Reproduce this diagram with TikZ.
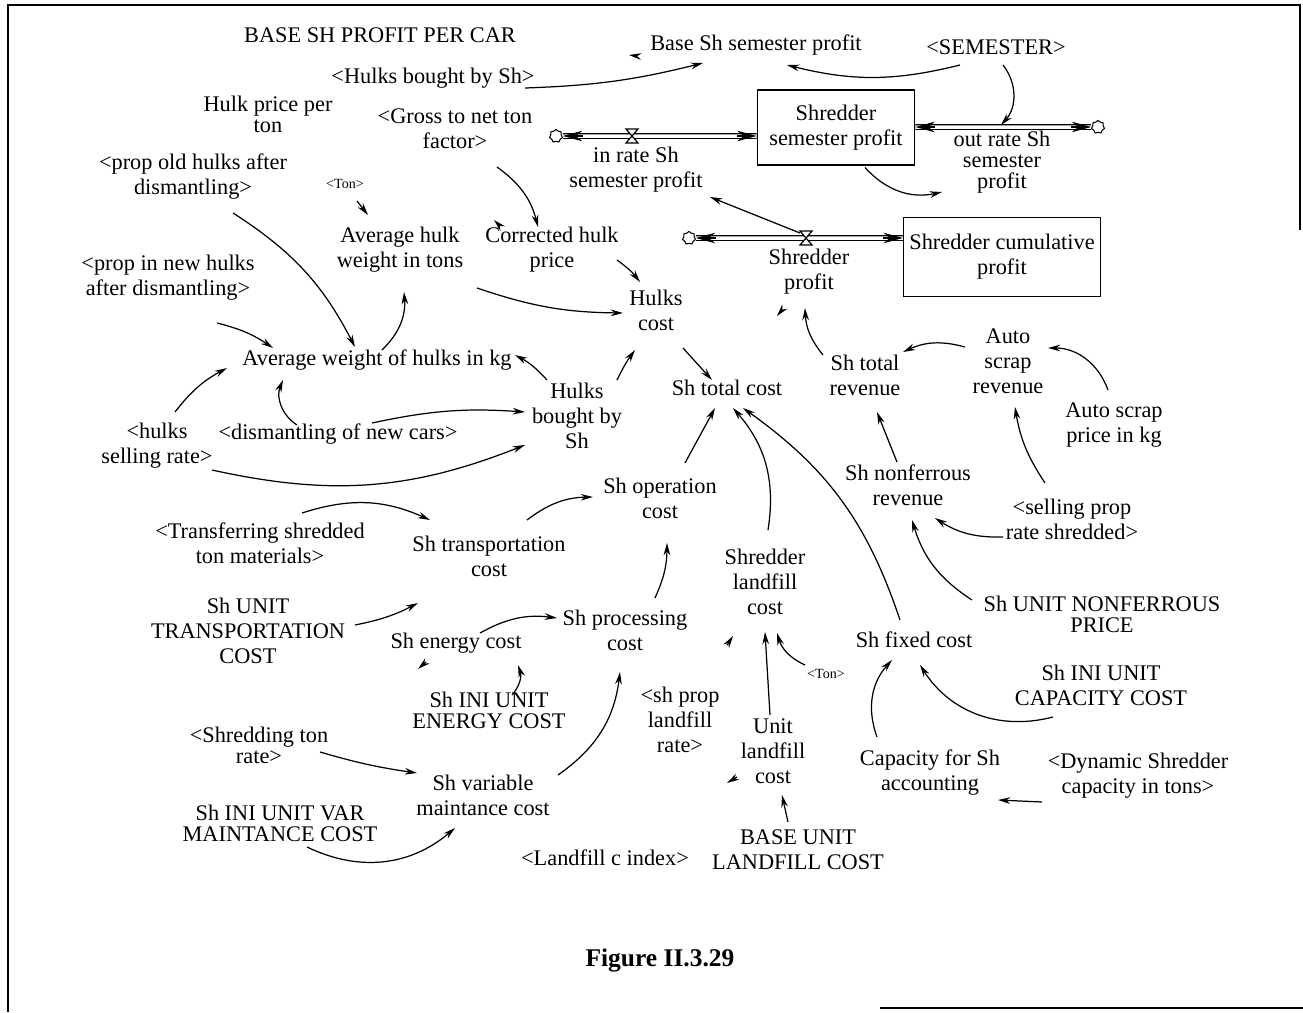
\documentclass[tikz,border=0pt]{standalone}
\usepackage{fontspec}
\setmainfont{Liberation Serif}
\usepackage{tikz}
\usetikzlibrary{arrows.meta, shapes.symbols, calc}

\tikzset{
  var/.style={align=center, inner sep=1pt, font=\fontsize{12.7}{14.2}\selectfont},
  tvar/.style={var, font=\fontsize{12.7}{11.8}\selectfont},
  small/.style={inner sep=1pt, font=\fontsize{8}{9}\selectfont},
  stock/.style={draw, line width=0.8pt, align=center, font=\fontsize{12.7}{14.2}\selectfont},
  link/.style={-{Stealth[length=7pt,width=3.8pt]}, line width=0.7pt},
  pipe/.style={double distance=2pt, line width=0.6pt},
  pipetip/.style={-{Stealth[length=11pt,width=6pt]}, line width=0.6pt},
  cloudy/.style={cloud, cloud puffs=7, draw, line width=0.6pt, minimum width=7.5pt, minimum height=7.5pt, inner sep=0pt},
  frame/.style={line width=0.8pt}
}
\newcommand{\valve}[1]{\draw[line width=0.7pt, fill=white] ($(#1)+(-6,-7)$) -- ($(#1)+(6,-7)$) -- ($(#1)+(-6,7)$) -- ($(#1)+(6,7)$) -- cycle;}

\begin{document}
\begin{tikzpicture}[x=0.02cm, y=-0.02cm]
\useasboundingbox (0,0) rectangle (1303,1012);
\draw[frame] (8,1012) -- (8,5) -- (1300,5) -- (1300,230);
\draw[frame] (880,1008) -- (1303,1008);

% variables
\node[var] (basepc) at (380,35) {BASE SH PROFIT PER CAR};
\node[var] (bssp) at (756,45) {Base Sh semester profit};
\node[var] (sem) at (996,47) {<SEMESTER>};
\node[var] (hbshs) at (433,78) {<Hulks bought by Sh>};
\node[tvar] (hpt) at (268,114) {Hulk price per\\ton};
\node[var] (gnt) at (455,129) {<Gross to net ton\\factor>};
\node[stock, minimum width=89.6pt, minimum height=42.5pt] (ssp) at (836,127.5) {Shredder\\semester profit};
\node[var] (inr) at (636,170) {in rate Sh\\semester profit};
\node[tvar] (outr) at (1002,162) {out rate Sh\\semester\\profit};
\node[var] (poh) at (193,177) {<prop old hulks after\\dismantling>};
\node[small] (ton1) at (345,184) {<Ton>};
\node[var] (ahw) at (400,250) {Average hulk\\weight in tons};
\node[var] (chp) at (552,250) {Corrected hulk\\price};
\node[stock, minimum width=112pt, minimum height=45pt] (scp) at (1002,257) {Shredder cumulative\\profit};
\node[var] (shp) at (809,272) {Shredder\\profit};
\node[var] (pnh) at (168,278) {<prop in new hulks\\after dismantling>};
\node[var] (hcost) at (656,310) {Hulks\\cost};
\node[var] (awh) at (377,360) {Average weight of hulks in kg};
\node[var] (hbsh) at (577,416) {Hulks\\bought by\\Sh};
\node[var] (stc) at (727,388) {Sh total cost};
\node[var] (str) at (865,375) {Sh total\\revenue};
\node[var] (asr) at (1008,361) {Auto\\scrap\\revenue};
\node[var] (asp) at (1114,425) {Auto scrap\\price in kg};
\node[var] (hsr) at (157,446) {<hulks\\selling rate>};
\node[var] (dnc) at (338,434) {<dismantling of new cars>};
\node[var] (snr) at (908,485) {Sh nonferrous\\revenue};
\node[var] (spr) at (1072,519) {<selling prop\\rate shredded>};
\node[var] (soc) at (660,498) {Sh operation\\cost};
\node[var] (tsm) at (260,543) {<Transferring shredded\\ton materials>};
\node[var] (strc) at (489,556) {Sh transportation\\cost};
\node[var] (slc) at (765,582) {Shredder\\landfill\\cost};
\node[tvar] (unp) at (1102,614) {Sh UNIT NONFERROUS\\PRICE};
\node[var] (utc) at (248,631) {Sh UNIT\\TRANSPORTATION\\COST};
\node[var] (spc) at (625,630) {Sh processing\\cost};
\node[var] (sec) at (456,643) {Sh energy cost};
\node[var] (sfc) at (914,640) {Sh fixed cost};
\node[small] (ton2) at (826,674) {<Ton>};
\node[var] (icc) at (1101,685) {Sh INI UNIT\\CAPACITY COST};
\node[tvar] (iec) at (489,710) {Sh INI UNIT\\ENERGY COST};
\node[var] (plr) at (680,720) {<sh prop\\landfill\\rate>};
\node[var] (ulc) at (773,751) {Unit\\landfill\\cost};
\node[tvar] (shtr) at (259,745) {<Shredding ton\\rate>};
\node[var] (cap) at (930,773) {Capacity for Sh\\accounting};
\node[var] (dsc) at (1138,776) {<Dynamic Shredder\\capacity in tons>};
\node[var] (svm) at (483,795) {Sh variable\\maintance cost};
\node[tvar] (ivm) at (280,823) {Sh INI UNIT VAR\\MAINTANCE COST};
\node[var] (lci) at (605,858) {<Landfill c index>};
\node[var] (bulc) at (798,850) {BASE UNIT\\LANDFILL COST};
\node[font=\fontsize{14.5}{16}\selectfont\bfseries] (fig) at (660,960) {Figure II.3.29};

% flows
\node[cloudy] (c1) at (556,136) {};
\node[cloudy] (c2) at (1098,127) {};
\node[cloudy] (c3) at (689,238) {};
\coordinate (v1) at (632,136);
\coordinate (v2) at (1001,127);
\coordinate (v3) at (806,238);

\draw[pipe] (c1.east) -- (c1 -| ssp.west);
\draw[pipetip] ($(c1.east)+(20,0)$) -- (c1.east);
\draw[pipetip] ($(c1 -| ssp.west)+(-20,0)$) -- (c1 -| ssp.west);
\valve{v1}

\draw[pipe] (ssp.east |- c2) -- (c2.west);
\draw[pipetip] ($(ssp.east |- c2)+(20,0)$) -- (ssp.east |- c2);
\draw[pipetip] ($(c2.west)+(-20,0)$) -- (c2.west);

\draw[pipe] (c3.east) -- (c3 -| scp.west);
\draw[pipetip] ($(c3.east)+(20,0)$) -- (c3.east);
\draw[pipetip] ($(c3 -| scp.west)+(-20,0)$) -- (c3 -| scp.west);
\valve{v3}

% links
\draw[link] ($(hbshs)+(92,10)$) to[bend right=6] ($(bssp)+(-53,18)$);
\draw[link] ($(sem)+(-36,18)$) to[bend left=14] ($(bssp)+(31,20)$);
\draw[link] ($(sem)+(7,18)$) to[bend left=40] ($(v2)+(0,-2)$);
\draw[link] ($(ssp)+(29,40)$) to[bend right=30] ($(outr)+(-60,30)$);
\draw[link] ($(v3)+(-6,-5)$) -- ($(inr)+(74,27)$);
\draw[link] ($(gnt)+(42,38)$) to[bend left=20] ($(chp)+(-14,-23)$);
\draw[link] ($(ton1)+(12,17)$) -- ($(ahw)+(-32,-35)$);
\draw[link] ($(chp)+(-52,-24)$) -- ($(chp)+(-58,-30)$);
\draw[link] ($(chp)+(65,10)$) to[bend left=8] ($(hcost)+(-16,-28)$);
\draw[link] ($(ahw)+(77,38)$) to[bend right=9] ($(hcost)+(-33,3)$);
\draw[link] ($(poh)+(40,36)$) to[bend left=15] ($(awh)+(-22,-13)$);
\draw[link] ($(awh)+(5,-10)$) to[bend right=25] ($(ahw)+(4,42)$);
\draw[link] ($(pnh)+(49,45)$) to[bend left=10] ($(awh)+(-104,-12)$);
\draw[link] ($(hsr)+(18,-34)$) to[bend left=12] ($(awh)+(-150,8)$);
\draw[link] ($(dnc)+(-41,-9)$) to[bend left=40] ($(awh)+(-94,20)$);
\draw[link] ($(dnc)+(34,-11)$) to[bend left=8] ($(hbsh)+(-52,-4)$);
\draw[link] ($(hsr)+(55,24)$) to[bend right=17] ($(hbsh)+(-52,29)$);
\draw[link] ($(hbsh)+(-30,-36)$) to[bend right=10] ($(awh)+(138,-5)$);
\draw[link] ($(hbsh)+(40,-36)$) to[bend left=5] ($(hcost)+(-21,40)$);
\draw[link] ($(hcost)+(27,38)$) -- ($(stc)+(-15,-8)$);
\draw[link] ($(soc)+(25,-35)$) -- ($(stc)+(-12,20)$);
\draw[link] ($(slc)+(3,-52)$) to[bend right=25] ($(stc)+(6,20)$);
\draw[link] ($(sfc)+(-14,-20)$) to[bend right=18] ($(stc)+(16,20)$);
\draw[link] ($(str)+(-42,-20)$) to[bend left=18] ($(shp)+(-4,36)$);
\draw[link] ($(shp)+(-27,38)$) -- ($(shp)+(-32,44)$);
\draw[link] ($(asr)+(-43,-14)$) to[bend right=20] ($(str)+(38,-23)$);
\draw[link] ($(asp)+(-6,-35)$) to[bend right=35] ($(asr)+(40,-13)$);
\draw[link] ($(snr)+(-11,-23)$) -- ($(str)+(12,37)$);
\draw[link] ($(spr)+(-27,-36)$) to[bend left=12] ($(asr)+(7,46)$);
\draw[link] ($(spr)+(-69,18)$) to[bend left=17] ($(snr)+(27,33)$);
\draw[link] ($(unp)+(-130,-14)$) to[bend left=20] ($(snr)+(4,35)$);
\draw[link] ($(tsm)+(42,-30)$) to[bend left=21] ($(strc)+(-59,-36)$);
\draw[link] ($(strc)+(38,-36)$) to[bend left=18] ($(soc)+(-67,-1)$);
\draw[link] ($(utc)+(107,-6)$) to[bend right=8] ($(strc)+(-71,47)$);
\draw[link] ($(sec)+(24,-10)$) to[bend left=18] ($(spc)+(-68,-12)$);
\draw[link] ($(sec)+(-30,19)$) -- ($(sec)+(-38,26)$);
\draw[link] ($(iec)+(23,-15)$) to[bend right=30] ($(sec)+(62,22)$);
\draw[link] ($(spc)+(30,-32)$) to[bend right=12] ($(soc)+(7,45)$);
\draw[link] ($(svm)+(75,-20)$) to[bend right=24] ($(spc)+(-5,42)$);
\draw[link] ($(shtr)+(61,7)$) to[bend right=4] ($(svm)+(-66,-22)$);
\draw[link] ($(ivm)+(27,24)$) to[bend right=33] ($(svm)+(-28,33)$);
\draw[link] ($(slc)+(-38,63)$) -- ($(slc)+(-32,54)$);
\draw[link] ($(ulc)+(-3,-36)$) -- ($(slc)+(0,50)$);
\draw[link] ($(ton2)+(-21,-9)$) to[bend left=24] ($(slc)+(12,51)$);
\draw[link] ($(ulc)+(-36,26)$) -- ($(ulc)+(-46,32)$);
\draw[link] ($(bulc)+(-10,-28)$) -- ($(ulc)+(9,44)$);
\draw[link] ($(cap)+(-53,-36)$) to[bend left=31] ($(sfc)+(-22,20)$);
\draw[link] ($(icc)+(-48,32)$) to[bend left=36] ($(sfc)+(6,25)$);
\draw[link] ($(dsc)+(-96,26)$) -- ($(cap)+(68,27)$);
\draw[link] ($(bssp)+(-119,11)$) -- ($(bssp)+(-127,10)$);
\end{tikzpicture}
\end{document}
